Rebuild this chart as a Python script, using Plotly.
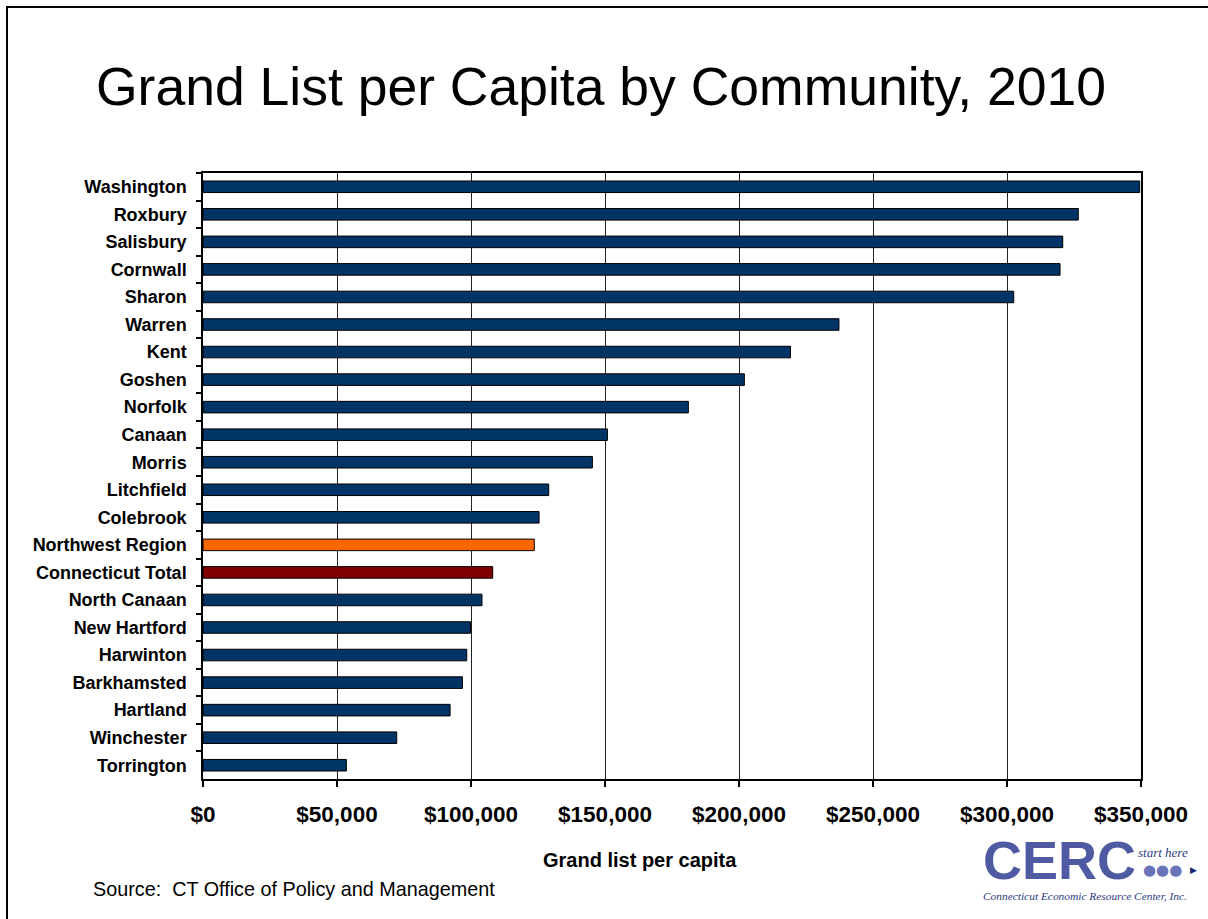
import plotly.graph_objects as go

communities = ["Washington", "Roxbury", "Salisbury", "Cornwall", "Sharon", "Warren",
               "Kent", "Goshen", "Norfolk", "Canaan", "Morris", "Litchfield",
               "Colebrook", "Northwest Region", "Connecticut Total", "North Canaan",
               "New Hartford", "Harwinton", "Barkhamsted", "Hartland", "Winchester",
               "Torrington"]
grand_list_per_capita = [349500, 326600, 320800, 319800, 302500, 237300,
                         219200, 202000, 181100, 150900, 145300, 129000,
                         125400, 123600, 108100, 104100,
                         99800, 98400, 96800, 92200, 72300,
                         53500]
x_tick_values = [0, 50000, 100000, 150000, 200000, 250000, 300000, 350000]
x_tick_labels = ["$0", "$50,000", "$100,000", "$150,000", "$200,000",
                 "$250,000", "$300,000", "$350,000"]

NAVY = "#003366"
ORANGE = "#FF6600"
MAROON = "#800000"
bar_colors = []
for c in communities:
    if c == "Northwest Region":
        bar_colors.append(ORANGE)
    elif c == "Connecticut Total":
        bar_colors.append(MAROON)
    else:
        bar_colors.append(NAVY)

FONT = "Liberation Sans, Arial, sans-serif"
SERIF = "Liberation Serif, Times New Roman, serif"

W, H = 1208, 919
L, R, T, B = 203, 67, 173, 140
PW, PH = W - L - R, H - T - B


def px(xp):
    return (xp - L) / PW


def py(yp):
    return (H - B - yp) / PH


fig = go.Figure()
fig.add_trace(go.Bar(
    x=grand_list_per_capita,
    y=communities,
    orientation="h",
    width=0.42,
    marker=dict(color=bar_colors, line=dict(color="#000000", width=1)),
    hoverinfo="x+y",
))

fig.update_layout(
    width=W, height=H,
    margin=dict(l=L, r=R, t=T, b=B),
    paper_bgcolor="white",
    plot_bgcolor="white",
    showlegend=False,
    title=dict(
        text="Grand List per Capita by Community, 2010",
        font=dict(family=FONT, size=53.5, color="#000000"),
        x=601 / W, xanchor="center",
        y=1 - 86 / H, yanchor="middle",
    ),
    xaxis=dict(
        range=[0, 350000],
        tickvals=x_tick_values,
        ticktext=x_tick_labels,
        tickfont=dict(family=FONT, size=22.5, color="#000000", weight="bold"),
        showgrid=True, gridcolor="#222222", gridwidth=1,
        showline=True, linecolor="#000000", linewidth=1.5, mirror=True,
        ticks="outside", ticklen=6, tickcolor="#000000", tickwidth=1.5,
        ticklabelstandoff=8,
        zeroline=False,
        fixedrange=True,
    ),
    yaxis=dict(
        categoryorder="array",
        categoryarray=communities,
        range=[len(communities) - 0.5, -0.5],
        tickfont=dict(family=FONT, size=18, color="#000000", weight="bold"),
        showline=True, linecolor="#000000", linewidth=1.5, mirror=True,
        ticks="outside", ticklen=5, tickcolor="#000000", tickwidth=1.5,
        tickson="boundaries",
        ticklabelstandoff=11,
        showgrid=False,
        fixedrange=True,
    ),
    bargap=0.58,
)

annotations = [
    dict(text="<b>Grand list per capita</b>", x=px(640), y=py(860),
         xref="paper", yref="paper", xanchor="center", yanchor="middle",
         showarrow=False, font=dict(family=FONT, size=20, color="#000000")),
    dict(text="Source:  CT Office of Policy and Management", x=px(91), y=py(889),
         xref="paper", yref="paper", xanchor="left", yanchor="middle",
         showarrow=False, font=dict(family=FONT, size=19.8, color="#000000")),
    # CERC logo approximation
    dict(text="<b>CERC</b>", x=px(1059), y=py(860),
         xref="paper", yref="paper", xanchor="center", yanchor="middle",
         showarrow=False, font=dict(family=FONT, size=54, color="#4f5aa3")),
    dict(text="<i>start here</i>", x=px(1163), y=py(852),
         xref="paper", yref="paper", xanchor="center", yanchor="middle",
         showarrow=False, font=dict(family=SERIF, size=13, color="#2c3a80")),
    dict(text="●●●", x=px(1162), y=py(870),
         xref="paper", yref="paper", xanchor="center", yanchor="middle",
         showarrow=False, font=dict(family="DejaVu Sans", size=15, color="#6a74b8")),
    dict(text="▶", x=px(1193), y=py(870),
         xref="paper", yref="paper", xanchor="center", yanchor="middle",
         showarrow=False, font=dict(family="DejaVu Sans", size=9, color="#1a2a70")),
    dict(text="<i>Connecticut Economic Resource Center, Inc.</i>", x=px(1085), y=py(896),
         xref="paper", yref="paper", xanchor="center", yanchor="middle",
         showarrow=False, font=dict(family=SERIF, size=11.4, color="#2c3a80")),
]
fig.update_layout(annotations=annotations)

# slide border (top and left edges visible)
fig.add_shape(type="rect", xref="paper", yref="paper",
              x0=px(7), x1=px(1240), y0=py(960), y1=py(7),
              line=dict(color="#000000", width=2), fillcolor="rgba(0,0,0,0)",
              layer="above")

fig.write_html("out.html",
               config={"displayModeBar": False},
               post_script="document.body.style.margin='0';"
                           "document.body.style.overflow='hidden';")
